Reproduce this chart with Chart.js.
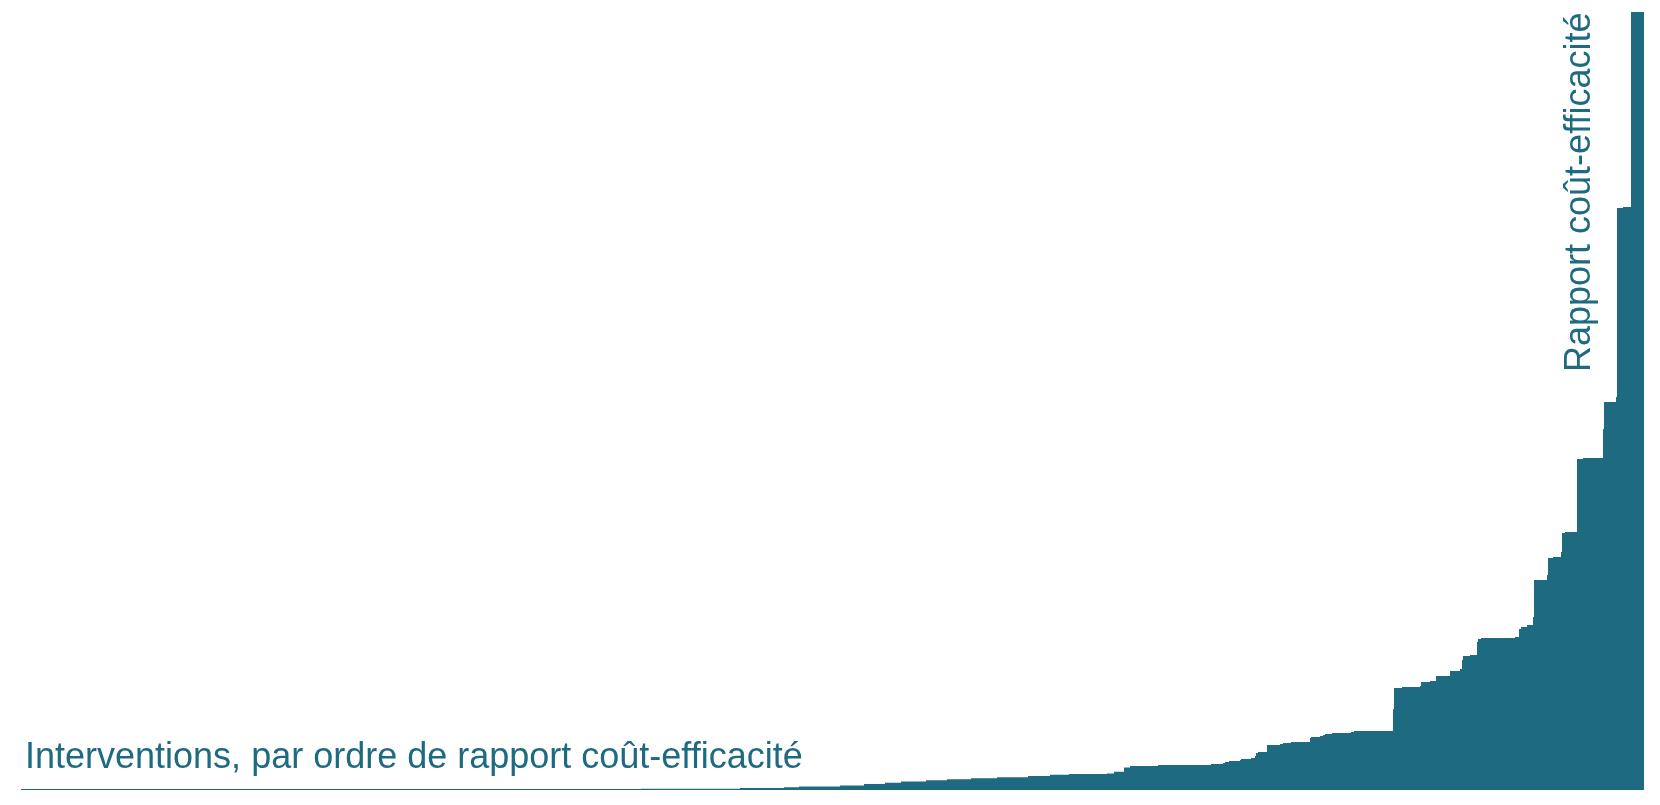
<!DOCTYPE html>
<html>
<head>
<meta charset="utf-8">
<title>Rapport coût-efficacité</title>
<script src="https://cdn.jsdelivr.net/npm/chart.js@4.4.1/dist/chart.umd.min.js"></script>
<style>
    html, body { margin: 0; padding: 0; background: #ffffff; }
    #myChart { display: block; }
</style>
</head>
<body>
<canvas id="myChart" width="1660" height="805"></canvas>
<script>
// Interventions, sorted by cost-effectiveness ratio.
// widths = size of each intervention, ratios = cost-effectiveness ratio
var widths = [620, 99, 44, 15, 41, 24, 21, 16, 25, 21, 24, 26, 31, 22, 19, 38, 7, 10, 6, 28,
    53, 12, 2, 4, 11, 1, 10, 4, 1, 2, 9, 13, 3, 8, 19, 1, 9, 3, 2, 7,
    19, 3, 39, 1, 8, 18, 1, 9, 6, 14, 10, 2, 1, 7, 7, 1, 3, 34, 4, 2,
    6, 6, 1, 13, 1, 5, 8, 1, 3, 12, 6, 20, 1, 12, 1, 6, 8, 13];
var ratios = [0, 1.2, 2, 2.8, 3.5, 4.5, 6, 7.2, 8.6, 9.7, 10.7, 11.7, 12.8, 14.1, 15.2, 15.9, 16.6, 18.3, 22.5, 24,
    25, 26, 27, 28, 29, 30, 31, 32, 34, 37, 38, 45, 46, 47, 48, 52, 53, 54, 55, 56,
    57, 58, 59, 81, 102, 103, 104, 108, 109, 114, 119, 121, 130, 134, 135, 148, 151, 152, 153, 161,
    163, 165, 173, 210, 215, 232, 233, 238, 257, 258, 331, 332, 361, 388, 393, 582, 583, 778];

var xLabel = "Interventions, par ordre de rapport coût-efficacité";
var yLabel = "Rapport coût-efficacité";

var mainColor = "#1e6a80";

$ready();

function $ready() {
    var ctx = document.getElementById("myChart").getContext("2d");

    // cumulate widths into left edges for a stepped area
    var steps = [];
    var pos = 0;
    widths.forEach(function (w, i) {
        steps.push({ x: pos, y: ratios[i] });
        pos += w;
    });
    steps.push({ x: pos, y: ratios[ratios.length - 1] });
    var total = pos;
    var yMax = Math.max.apply(null, ratios);

    // axis labels drawn next to the plot
    var labelPlugin = {
        id: "axisLabels",
        afterDraw: function (chart) {
            var c = chart.ctx;
            var area = chart.chartArea;
            c.save();
            c.fillStyle = mainColor;
            c.font = "36px 'Liberation Sans', Arial, sans-serif";
            c.textAlign = "left";
            c.textBaseline = "alphabetic";
            c.fillText(xLabel, area.left + 4, area.bottom - 22);

            c.translate(area.right - 54, 372);
            c.rotate(-Math.PI / 2);
            c.fillText(yLabel, 0, 0);
            c.restore();
        }
    };

    var chart = new Chart(ctx, {
        type: 'line',
        data: {
            datasets: [
                {
                    // each value holds until the next edge
                    data: steps,
                    stepped: 'before',
                    fill: 'origin',
                    backgroundColor: mainColor,
                    borderWidth: 0,
                    pointRadius: 0
                },
                {
                    // baseline
                    data: [{ x: 0, y: 0 }, { x: total, y: 0 }],
                    fill: false,
                    borderColor: mainColor,
                    borderWidth: 2,
                    pointRadius: 0
                }
            ]
        },
        options: {
            responsive: false,
            animation: false,
            devicePixelRatio: 1,
            layout: { padding: { left: 21, right: 16, top: 12, bottom: 15 } },
            plugins: {
                legend: { display: false },
                tooltip: { enabled: false }
            },
            scales: {
                x: { type: 'linear', display: false, min: 0, max: total },
                y: { display: false, min: 0, max: yMax }
            }
        },
        plugins: [labelPlugin]
    });
}
</script>
</body>
</html>
